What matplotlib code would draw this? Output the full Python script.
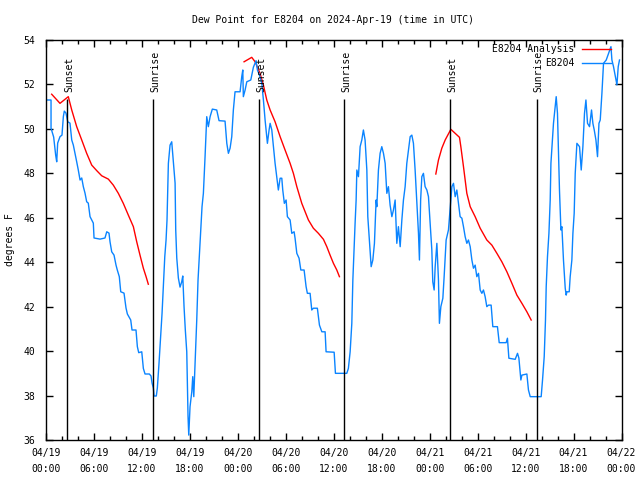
import numpy as np
import matplotlib
matplotlib.use('Agg')
import matplotlib.pyplot as plt

plt.rcParams['font.family'] = 'DejaVu Sans Mono'
plt.rcParams['font.size'] = 7

# ── Data (hours since 2024-04-19 00:00 UTC) ───────────────────────────────────
obs_hours = [
    0.16, 0.63, 0.63, 0.96, 1.21, 1.34, 1.46, 1.75, 2.0, 2.17, 2.29, 2.5, 2.72, 3.0,
    3.22, 3.42, 3.63, 3.84, 4.04, 4.26, 4.47, 4.67, 4.88, 5.09, 5.29, 5.51, 5.72,
    5.92, 6.01, 6.76, 7.38, 7.6, 7.88, 8.01, 8.22, 8.51, 8.76, 8.92, 9.17, 9.35,
    9.76, 10.01, 10.18, 10.6, 10.76, 11.26, 11.43, 11.6, 11.98, 12.18, 12.39, 12.93,
    13.14, 13.27, 13.43, 13.52, 13.8, 13.93, 14.14, 14.36, 14.52, 14.68, 14.86,
    15.02, 15.14, 15.31, 15.52, 15.73, 15.93, 16.15, 16.23, 16.36, 16.56, 16.77,
    16.98, 17.11, 17.27, 17.43, 17.61, 17.68, 17.77, 17.86, 17.93, 18.02, 18.24,
    18.36, 18.49, 18.56, 18.69, 18.86, 19.02, 19.19, 19.36, 19.52, 19.69, 19.9,
    20.11, 20.31, 20.53, 20.81, 21.36, 21.65, 22.4, 22.62, 22.82, 23.03, 23.24,
    23.44, 23.65, 24.28, 24.49, 24.62, 24.69, 24.91, 25.12, 25.62, 25.95, 26.28,
    26.45, 26.7, 27.0, 27.2, 27.41, 27.7, 27.91, 28.04, 28.25, 28.45, 28.66, 28.87,
    29.07, 29.29, 29.5, 29.62, 29.82, 30.04, 30.2, 30.54, 30.75, 31.04, 31.16,
    31.38, 31.66, 31.88, 32.29, 32.54, 32.7, 33.04, 33.25, 33.45, 33.95, 34.21,
    34.51, 34.92, 35.04, 36.05, 36.21, 37.63, 37.83, 38.05, 38.26, 38.39, 38.55,
    38.67, 38.8, 38.89, 39.09, 39.3, 39.51, 39.71, 39.92, 40.14, 40.26, 40.46,
    40.68, 40.89, 41.09, 41.3, 41.39, 41.59, 41.8, 42.01, 42.22, 42.43, 42.64,
    42.84, 43.05, 43.27, 43.47, 43.68, 43.89, 44.09, 44.31, 44.52, 44.72, 44.93,
    45.14, 45.56, 45.77, 45.97, 46.18, 46.4, 46.6, 46.72, 46.87, 47.02, 47.22,
    47.43, 47.65, 47.85, 48.06, 48.27, 48.39, 48.56, 48.69, 48.9, 49.1, 49.22,
    49.4, 49.65, 49.81, 50.06, 50.35, 50.48, 50.63, 50.78, 50.98, 51.19, 51.4,
    51.6, 51.81, 52.03, 52.23, 52.44, 52.65, 52.85, 53.07, 53.28, 53.48, 53.69,
    53.9, 54.11, 54.32, 54.53, 54.73, 54.94, 55.15, 55.36, 55.69, 55.9, 56.48,
    56.7, 57.57, 57.73, 57.91, 58.7, 58.99, 59.16, 59.41, 59.54, 60.16, 60.36,
    60.58, 61.95, 62.12, 62.33, 62.49, 62.58, 62.74, 62.92, 63.08, 63.17, 63.49,
    63.83, 63.99, 64.24, 64.42, 64.54, 64.74, 64.96, 65.08, 65.17, 65.46, 65.58,
    65.79, 65.92, 66.08, 66.21, 66.42, 66.75, 66.96, 67.17, 67.37, 67.55, 67.75,
    68.0, 68.25, 68.42, 68.59, 68.8, 69.0, 69.18, 69.34, 69.55, 69.75, 70.09,
    70.38, 70.68, 70.8, 71.0, 71.43, 71.59, 71.75,
]
obs_dewpt = [
    51.30, 51.30, 50.03, 49.63, 48.82, 48.52, 49.36, 49.65, 49.72, 50.55, 50.80,
    50.71, 50.32, 50.26, 49.50, 49.27, 48.90, 48.52, 48.15, 47.70, 47.79, 47.40,
    47.11, 46.72, 46.66, 46.05, 45.90, 45.76, 45.09, 45.04, 45.09, 45.37, 45.31,
    44.92, 44.47, 44.32, 43.87, 43.65, 43.35, 42.67, 42.61, 41.94, 41.67, 41.40,
    40.95, 40.95, 40.20, 39.93, 39.97, 39.22, 38.97, 38.97, 38.88, 38.56, 38.34,
    37.98, 37.98, 38.34, 39.46, 40.81, 41.71, 42.90, 44.25, 45.0, 45.9, 48.45,
    49.27, 49.42, 48.52, 47.56, 45.45, 44.19, 43.29, 42.88, 43.12, 43.38, 42.0,
    40.95, 39.97, 38.70, 37.05, 36.22, 36.76, 37.50, 38.17, 38.85, 37.95, 38.62,
    39.90, 41.40, 43.20, 44.32, 45.45, 46.50, 47.10, 48.75, 50.55, 50.10, 50.55,
    50.89, 50.85, 50.37, 50.35, 49.35, 48.90, 49.13, 49.65, 50.85, 51.67, 51.67,
    52.35, 52.65, 51.45, 51.75, 52.12, 52.20, 52.78, 53.07, 52.65, 52.43, 52.05,
    51.30, 50.40, 49.35, 49.95, 50.25, 49.95, 49.20, 48.45, 47.85, 47.25, 47.78,
    47.78, 47.25, 46.65, 46.80, 46.05, 45.90, 45.30, 45.37, 45.08, 44.40, 44.18,
    43.65, 43.65, 42.90, 42.60, 42.60, 41.85, 41.93, 41.93, 41.17, 40.87, 40.87,
    39.97, 39.95, 39.0, 39.0, 39.22, 39.97, 41.25, 43.20, 44.70, 45.75, 46.80,
    48.15, 47.85, 49.20, 49.50, 49.95, 49.50, 48.15, 46.05, 45.0, 43.80, 44.10,
    44.85, 46.80, 46.50, 48.15, 48.90, 49.20, 48.90, 48.45, 47.10, 47.40, 46.57,
    46.05, 46.35, 46.80, 44.85, 45.60, 44.70, 45.90, 46.80, 47.40, 48.45, 49.65,
    49.72, 49.35, 48.15, 46.65, 45.30, 44.10, 46.8, 47.85, 48.0, 47.40, 47.25,
    46.95, 45.75, 44.55, 43.12, 42.75, 43.80, 44.85, 43.20, 41.25, 42.0, 42.38,
    43.35, 45.0, 45.45, 46.05, 46.80, 47.40, 47.55, 46.95, 47.25, 46.65, 46.05,
    45.98, 45.60, 45.15, 44.85, 45.0, 44.70, 44.10, 43.73, 43.87, 43.35, 43.50,
    42.75, 42.60, 42.75, 42.45, 42.0, 42.07, 42.07, 41.10, 41.10, 40.38, 40.38,
    40.58, 39.68, 39.63, 39.90, 39.69, 38.70, 38.92, 38.97, 38.25, 37.95, 37.95,
    38.70, 39.75, 41.40, 42.90, 44.25, 45.30, 46.80, 48.45, 50.25, 51.45, 50.70,
    47.25, 45.45, 45.60, 44.10, 42.83, 42.52, 42.67, 42.67, 43.35, 44.10, 45.30,
    46.20, 48.0, 49.35, 49.20, 48.15, 49.20, 50.70, 51.30, 50.25, 50.10, 50.85,
    50.25, 49.95, 49.50, 48.75, 50.25, 50.40, 51.60, 52.95, 53.10, 53.40, 53.70,
    53.10, 52.80, 51.98, 52.80, 53.10,
]

# analysis: three nighttime segments
ana1_hours = [0.71, 1.75, 2.79, 3.22, 3.84, 4.47, 5.09, 5.72, 6.35, 6.97, 7.8, 8.42,
              9.05, 9.67, 10.3, 10.93, 11.35, 11.76, 12.18, 12.52, 12.8]
ana1_dewpt = [51.56, 51.15, 51.45, 50.85, 50.10, 49.50, 48.90, 48.37, 48.12, 47.89,
              47.74, 47.47, 47.10, 46.65, 46.12, 45.60, 44.92, 44.32, 43.73, 43.35, 43.01]
ana2_hours = [24.78, 25.74, 26.16, 26.78, 27.2, 27.62, 28.04, 28.66, 29.29, 29.91,
              30.54, 30.95, 31.38, 32.0, 32.42, 32.83, 33.45, 34.08, 34.71, 35.13,
              35.54, 35.96, 36.38, 36.71]
ana2_dewpt = [53.02, 53.22, 53.02, 52.50, 51.97, 51.30, 50.85, 50.32, 49.65, 49.05,
              48.45, 48.0, 47.40, 46.65, 46.27, 45.90, 45.53, 45.30, 45.03, 44.70,
              44.32, 43.95, 43.65, 43.35]
ana3_hours = [48.77, 49.1, 49.52, 49.94, 50.65, 51.19, 51.73, 51.9, 52.23, 52.65,
              53.07, 53.69, 54.32, 55.15, 55.78, 56.41, 57.03, 57.66, 58.29, 58.91,
              59.54, 60.16, 60.7]
ana3_dewpt = [47.97, 48.60, 49.13, 49.50, 49.98, 49.80, 49.62, 49.20, 48.30, 47.10,
              46.50, 46.05, 45.53, 45.0, 44.77, 44.40, 44.02, 43.57, 43.05, 42.52,
              42.15, 41.77, 41.40]

sun_hours = [2.67, 13.43, 26.7, 37.34, 50.6, 61.37]
sun_labels = ['Sunset', 'Sunrise', 'Sunset', 'Sunrise', 'Sunset', 'Sunrise']

tick_hours = list(range(0, 73, 6))
tick_labels = ['04/19\n00:00', '04/19\n06:00', '04/19\n12:00', '04/19\n18:00',
               '04/20\n00:00', '04/20\n06:00', '04/20\n12:00', '04/20\n18:00',
               '04/21\n00:00', '04/21\n06:00', '04/21\n12:00', '04/21\n18:00',
               '04/22\n00:00']

# ── Figure ────────────────────────────────────────────────────────────────────
fig = plt.figure(figsize=(6.4, 4.8), dpi=100)
ax = fig.add_axes([46 / 640, 40 / 480, 575.5 / 640, 400 / 480])

red = '#ff0000'
blue = '#0a84ff'
ax.plot(ana1_hours, ana1_dewpt, color=red, lw=1.0, label='E8204 Analysis')
ax.plot(ana2_hours, ana2_dewpt, color=red, lw=1.0)
ax.plot(ana3_hours, ana3_dewpt, color=red, lw=1.0)
ax.plot(obs_hours, obs_dewpt, color=blue, lw=1.0, label='E8204')

for h, lab in zip(sun_hours, sun_labels):
    ax.vlines(h, 36, 51.35, color='black', lw=1.0)
    ax.annotate(lab, xy=(h, 51.66), xytext=(1.5, 0), textcoords='offset points',
                rotation=90, ha='center', va='bottom', fontsize=7)

ax.set_xlim(0, 72)
ax.set_ylim(36, 54)
ax.set_xticks(tick_hours)
ax.set_xticklabels(tick_labels, linespacing=1.7)
ax.set_xticks(range(0, 73, 2), minor=True)
ax.set_yticks(range(36, 55, 2))
ax.tick_params(axis='both', which='major', direction='in', length=5, width=1,
               top=True, right=True)
ax.tick_params(axis='both', which='minor', direction='in', length=3, width=1,
               top=True, right=True)
ax.tick_params(axis='x', which='major', pad=6)
ax.tick_params(axis='y', which='major', pad=8)
for s in ax.spines.values():
    s.set_linewidth(1.0)

fig.text(333 / 640, 1 - 20 / 480, 'Dew Point for E8204 on 2024-Apr-19 (time in UTC)',
         ha='center', va='center', fontsize=7)
fig.text(10 / 640, 0.5, 'degrees F', rotation=90, ha='center', va='center', fontsize=7)

ax.legend(loc='upper right', bbox_to_anchor=(0.982, 0.99), markerfirst=False,
          frameon=False, borderaxespad=0, borderpad=0, handlelength=3.0,
          handletextpad=0.8, labelspacing=0.45, fontsize=7)

plt.savefig('out.png', dpi=100)
